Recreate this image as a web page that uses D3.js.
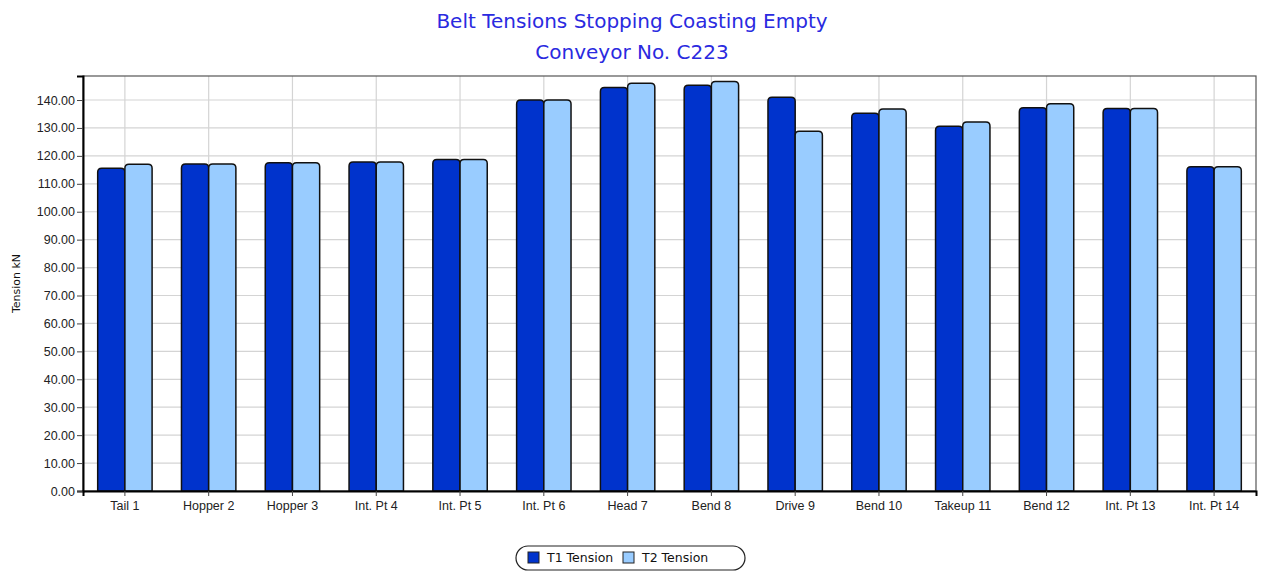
<!DOCTYPE html>
<html>
<head>
<meta charset="utf-8">
<script src="https://cdn.jsdelivr.net/npm/d3@7"></script>
<style>
  body { margin: 0; background: #fff; }
  svg { font-family: Tahoma, "DejaVu Sans", sans-serif; }
</style>
</head>
<body>
<svg id="chart" width="1263" height="572"></svg>
<script>
var categories = ["Tail 1", "Hopper 2", "Hopper 3", "Int. Pt 4", "Int. Pt 5", "Int. Pt 6", "Head 7",
  "Bend 8", "Drive 9", "Bend 10", "Takeup 11", "Bend 12", "Int. Pt 13", "Int. Pt 14"];
var t1Tension = [115.6, 117.1, 117.5, 117.8, 118.7, 140.0, 144.5, 145.3, 141.0, 135.3, 130.6, 137.2, 137.0, 116.1];
var t2Tension = [117.0, 117.1, 117.5, 117.8, 118.7, 140.0, 146.0, 146.6, 128.8, 136.8, 132.1, 138.7, 137.0, 116.1];
var yTicks = [0, 10, 20, 30, 40, 50, 60, 70, 80, 90, 100, 110, 120, 130, 140];
var seriesNames = ["T1 Tension", "T2 Tension"];
var colors = ["#0033cc", "#99ccff"];

var margin = { top: 76, right: 7, bottom: 81, left: 83 };
var width = 1263 - margin.left - margin.right;
var height = 572 - margin.top - margin.bottom;

var svg = d3.select("#chart");

// title
svg.append("text").attr("x", 632).attr("y", 28).attr("text-anchor", "middle")
  .style("fill", "#2a2ae0").style("font-size", "20px").text("Belt Tensions Stopping Coasting Empty");
svg.append("text").attr("x", 632).attr("y", 59).attr("text-anchor", "middle")
  .style("fill", "#2a2ae0").style("font-size", "20px").text("Conveyor No. C223");

var g = svg.append("g").attr("transform", "translate(" + margin.left + "," + margin.top + ")");

var x = d3.scaleBand().domain(categories).range([0, width]).padding(0);
var y = d3.scaleLinear().domain([0, 148.6]).range([height, 0]);
var xs = d3.scaleBand().domain([0, 1]).range([0, x.bandwidth()]).paddingOuter(0.54).paddingInner(0);

// grid
g.selectAll(".hgrid").data(yTicks.slice(1)).enter().append("line")
  .attr("x1", 0).attr("x2", width).attr("y1", d => y(d)).attr("y2", d => y(d))
  .style("stroke", "#d4d4d4").style("stroke-width", 1.2);
g.selectAll(".vgrid").data(categories).enter().append("line")
  .attr("x1", d => x(d) + x.bandwidth() / 2).attr("x2", d => x(d) + x.bandwidth() / 2)
  .attr("y1", 0).attr("y2", height)
  .style("stroke", "#d4d4d4").style("stroke-width", 1.2);

// plot border
g.append("rect").attr("x", 0).attr("y", 0).attr("width", width).attr("height", height)
  .style("fill", "none").style("stroke", "#555").style("stroke-width", 1.2);

// bars with rounded top corners
function barPath(x0, y0, w, h) {
  var r = Math.min(4, h);
  return "M" + x0 + "," + (y0 + h) + "V" + (y0 + r) + "Q" + x0 + "," + y0 + " " + (x0 + r) + "," + y0 +
    "H" + (x0 + w - r) + "Q" + (x0 + w) + "," + y0 + " " + (x0 + w) + "," + (y0 + r) + "V" + (y0 + h) + "Z";
}
var rows = categories.map((c, i) => ({ cat: c, vals: [t1Tension[i], t2Tension[i]] }));
var grp = g.selectAll(".grp").data(rows).enter().append("g")
  .attr("transform", d => "translate(" + x(d.cat) + ",0)");
grp.selectAll("path").data(d => d.vals.map((v, k) => ({ v: v, k: k }))).enter().append("path")
  .attr("d", d => barPath(xs(d.k), y(d.v), xs.bandwidth(), height - y(d.v)))
  .style("fill", d => colors[d.k]).style("stroke", "#111").style("stroke-width", 1.5);

// axes
var yAxis = g.append("g").call(d3.axisLeft(y).tickValues(yTicks).tickFormat(d3.format(".2f")).tickSizeOuter(0).tickSize(6));
yAxis.select(".domain").style("stroke", "#000").style("stroke-width", 2);
yAxis.selectAll("text").style("font-size", "12.5px").style("fill", "#222").attr("x", -8);
yAxis.selectAll(".tick line").style("stroke", "#444");

var xAxis = g.append("g").attr("transform", "translate(0," + height + ")")
  .call(d3.axisBottom(x).tickSizeOuter(0).tickSize(5));
xAxis.select(".domain").style("stroke", "#000").style("stroke-width", 2);
xAxis.selectAll("text").style("font-size", "12.5px").style("fill", "#222").attr("y", 10);
xAxis.selectAll(".tick line").style("stroke", "#444");

// y label
svg.append("text").attr("transform", "translate(20," + (margin.top + height / 2) + ") rotate(-90)")
  .attr("text-anchor", "middle").style("font-size", "11px").style("fill", "#111").text("Tension kN");

// legend
var lg = svg.append("g").attr("transform", "translate(516,546)");
lg.append("rect").attr("width", 229).attr("height", 24).attr("rx", 12)
  .style("fill", "#fff").style("stroke", "#222").style("stroke-width", 1.2);
var items = lg.selectAll(".item").data(seriesNames).enter().append("g")
  .attr("transform", (d, i) => "translate(" + (12 + i * 95) + ",0)");
items.append("rect").attr("x", 0).attr("y", 6).attr("width", 11).attr("height", 11)
  .style("fill", (d, i) => colors[i]).style("stroke", "#222").style("stroke-width", 1);
items.append("text").attr("x", 19).attr("y", 16).style("font-size", "12.5px").style("fill", "#111").text(d => d);
</script>
</body>
</html>
